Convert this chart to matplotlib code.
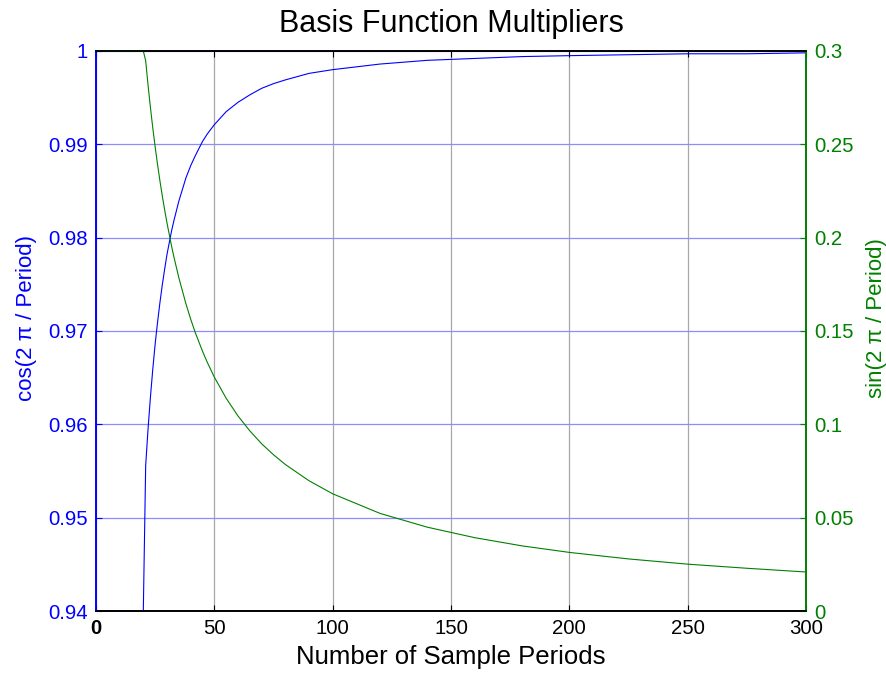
import numpy as np
import matplotlib.pyplot as plt

plt.rcParams['font.family'] = ['Liberation Sans', 'DejaVu Sans']

# number of sample periods
periods = [0, 20, 21, 22, 23, 24, 25, 26, 27, 28, 29, 30, 32, 33, 35, 38, 40,
           42, 45, 47, 50, 55, 60, 65, 70, 75, 80, 90, 100, 120, 140, 160,
           180, 200, 225, 250, 275, 300]
# cos(2 pi / Period), clamped at the bottom of the axis
cos_vals = [0.94, 0.94, 0.9556, 0.9595, 0.9629, 0.9659, 0.9686, 0.9709, 0.9730,
            0.9749, 0.9766, 0.9782, 0.9808, 0.9819, 0.9839, 0.9864, 0.9877,
            0.9888, 0.9903, 0.9911, 0.9921, 0.9935, 0.9945, 0.9953, 0.9960,
            0.9965, 0.9969, 0.9976, 0.9980, 0.9986, 0.9990, 0.9992, 0.9994,
            0.9995, 0.9996, 0.9997, 0.9997, 0.9998]
# sin(2 pi / Period), clamped at the top of the axis
sin_vals = [0.3, 0.3, 0.2948, 0.2817, 0.2698, 0.2588, 0.2487, 0.2393, 0.2306,
            0.2225, 0.2150, 0.2079, 0.1951, 0.1893, 0.1786, 0.1646, 0.1564,
            0.1490, 0.1392, 0.1333, 0.1253, 0.1140, 0.1045, 0.0965, 0.0896,
            0.0837, 0.0785, 0.0698, 0.0628, 0.0523, 0.0449, 0.0393, 0.0349,
            0.0314, 0.0279, 0.0251, 0.0229, 0.0209]

x_ticks = [0, 50, 100, 150, 200, 250, 300]
cos_ticks = [0.94, 0.95, 0.96, 0.97, 0.98, 0.99, 1.0]
cos_labels = ['0.94', '0.95', '0.96', '0.97', '0.98', '0.99', '1']
sin_ticks = [0, 0.05, 0.1, 0.15, 0.2, 0.25, 0.3]
sin_labels = ['0', '0.05', '0.1', '0.15', '0.2', '0.25', '0.3']

blue = '#0000ff'
green = '#008000'

fig = plt.figure(figsize=(8.87, 6.78), dpi=100)
ax = fig.add_axes([0.1082, 0.0988, 0.8005, 0.826])
ax2 = ax.twinx()

ax.plot(periods, cos_vals, color=blue, lw=0.8, clip_on=False)
ax2.plot(periods, sin_vals, color=green, lw=0.8, clip_on=False)

ax.set_xlim(0, 300)
ax.set_ylim(0.94, 1.0)
ax2.set_ylim(0, 0.3)

ax.set_xticks(x_ticks)
ax.set_yticks(cos_ticks)
ax.set_yticklabels(cos_labels)
ax2.set_yticks(sin_ticks)
ax2.set_yticklabels(sin_labels)

ax.xaxis.grid(True, color='#a8a8a8', lw=0.9)
ax.yaxis.grid(True, color='#8c8cff', lw=0.9)
ax.set_axisbelow(True)

ax.tick_params(axis='x', direction='in', length=4, colors='black',
               labelsize=14.7, top=True, pad=6)
ax.tick_params(axis='y', direction='in', length=4, colors=blue,
               labelsize=14.7, pad=6)
ax2.tick_params(axis='y', direction='in', length=4, colors=green,
                labelsize=14.7, pad=6)
ax.get_xticklabels()[0].set_fontweight('bold')

for a in (ax, ax2):
    a.spines['top'].set_color('black')
    a.spines['bottom'].set_color('black')
    a.spines['left'].set_color(blue)
    a.spines['right'].set_color(green)
    for s in a.spines.values():
        s.set_linewidth(1.2)

ax.set_title('Basis Function Multipliers', fontsize=22, pad=14)
ax.set_xlabel('Number of Sample Periods', fontsize=18.5, labelpad=5)
ax.set_ylabel('cos(2 π / Period)', fontsize=16, color=blue)
ax.yaxis.set_label_coords(-0.083, 0.523)
ax2.set_ylabel('sin(2 π / Period)', fontsize=16, color=green)
ax2.yaxis.set_label_coords(1.085, 0.523)

fig.savefig('out.png', dpi=100)
